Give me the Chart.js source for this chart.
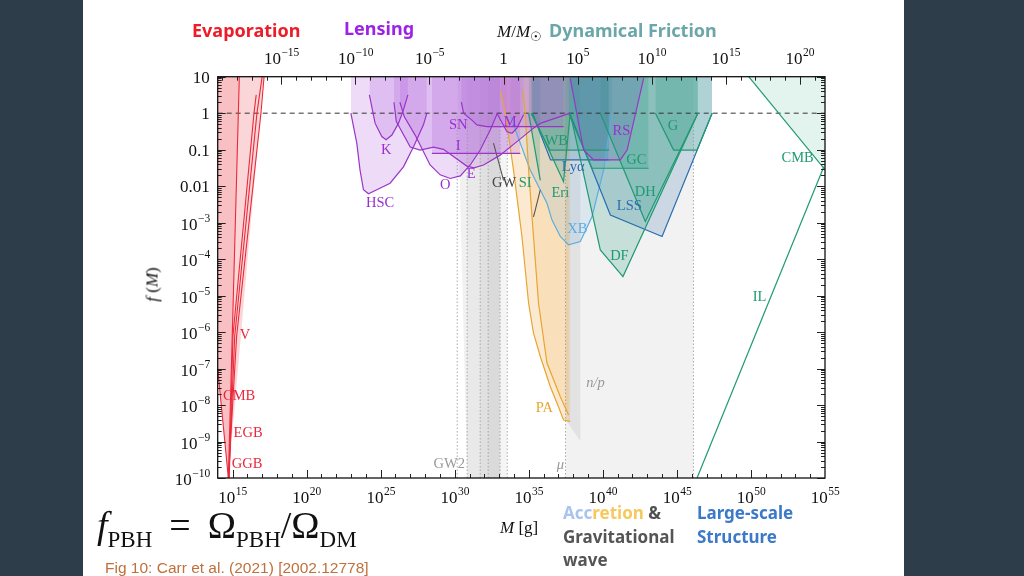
<!DOCTYPE html>
<html><head><meta charset="utf-8">
<script src="https://cdn.jsdelivr.net/npm/chart.js@4.4.1/dist/chart.umd.min.js"></script>
<style>
html,body{margin:0;padding:0;width:1024px;height:576px;overflow:hidden;background:#fff;}
#wrap{position:relative;width:1024px;height:576px;}
.panel{position:absolute;top:0;height:576px;background:#2d3d4a;}
canvas{position:absolute;left:0;top:0;}
.t{position:absolute;white-space:nowrap;line-height:1;}
.sans{font-family:'Noto Sans','Open Sans',sans-serif;font-weight:bold;}
.serif{font-family:'Liberation Serif','DejaVu Serif',serif;}
.sb{font-size:23px;position:relative;top:9px}
.eq{display:inline-block;padding:0 17px}
</style></head><body>
<div id="wrap">
<div class="panel" style="left:0;width:83px"></div>
<div class="panel" style="left:904px;width:120px"></div>
<canvas id="c" width="1024" height="576"></canvas>
<div class="t sans" style="left:192px;top:21px;font-size:18px;color:#ee1b2a">Evaporation</div>
<div class="t sans" style="left:344px;top:19px;font-size:18px;color:#9b22e6">Lensing</div>
<div class="t sans" style="left:549px;top:21px;font-size:18px;color:#6ba7a9">Dynamical Friction</div>
<div class="t serif" style="left:497px;top:23px;font-size:17px;color:#111"><i>M</i>/<i>M</i><sub style="font-size:13px">☉</sub></div>
<div class="t serif" style="left:500px;top:519px;font-size:17px;color:#111"><i>M</i> [g]</div>
<div class="t serif" style="left:124px;top:276px;font-size:17px;color:#111;transform:rotate(-90deg);transform-origin:center;width:56px;text-align:center"><i>f</i> (<i>M</i>)</div>
<div class="t sans" style="left:563px;top:504px;font-size:17px;"><span style="color:#a9c4ef">Acc</span><span style="color:#f6c95e">retion</span> <span style="color:#505050">&amp;</span></div>
<div class="t sans" style="left:563px;top:528px;font-size:17px;color:#555">Gravitational</div>
<div class="t sans" style="left:563px;top:551px;font-size:17px;color:#555">wave</div>
<div class="t sans" style="left:697px;top:504px;font-size:17px;color:#3d79c9">Large-scale</div>
<div class="t sans" style="left:697px;top:528px;font-size:17px;color:#3d79c9">Structure</div>
<div class="t serif" style="left:97px;top:506px;font-size:38px;color:#111"><i>f</i><span class="sb">PBH</span><span class="eq">=</span>Ω<span class="sb">PBH</span>/Ω<span class="sb">DM</span></div>
<div class="t" style="left:105px;top:560px;font-size:15.5px;font-family:'Liberation Sans',Arial,sans-serif;color:#c0703a">Fig 10: Carr et al. (2021) [2002.12778]</div>
</div>
<script>
// ---------- data (log10 M[g], log10 f) ----------
const X_MIN_EXP = 14, X_MAX_EXP = 55, Y_MIN_EXP = -10, Y_MAX_EXP = 1;
const LOG_MSUN = 33.2986;
const xTickExps = [15,20,25,30,35,40,45,50,55];
const topTickExps = [-15,-10,-5,0,5,10,15,20];
const yTickExps = [-10,-9,-8,-7,-6,-5,-4,-3,-2,-1,0,1];

// evaporation
const evapOuter = [[14.0,-7.0],[14.72,-10],[17.1,1]];
const evapInner = [[14.0,-7.0],[14.72,-10],[15.46,1]];
const evapV1 = [[14.72,-10],[15.28,-6.1],[16.92,0],[17.13,1]];
const evapV2 = [[14.75,-10],[15.15,-6.1],[16.65,0],[17.0,1]];
const evapV3 = [[14.78,-10],[15.03,-6.1],[16.45,0],[16.6,0.5]];
const evapV4 = [[14.72,-10],[15.46,1]];
const evapCMB = [[14.0,-7.0],[14.72,-10]];
// lensing
const lensHSC = [[22.99,0.0],[23.39,-0.82],[23.61,-1.56],[23.84,-2.10],[24.18,-2.21],[24.74,-2.10],[25.64,-1.92],[26.54,-1.47],[27.22,-0.92],[27.89,-0.32],[28.12,0.0]];
const lensK = [[24.24,0.5],[24.63,-0.28],[25.08,-0.64],[25.37,-0.73],[25.76,-0.60],[26.2,-0.28],[26.54,0.09],[26.84,0.5]];
const lensO = [[26.3,0.3],[26.6,-0.1],[27.33,-0.6],[28.34,-1.42],[29.02,-1.69],[29.7,-1.79],[30.38,-1.72],[31.05,-1.42],[31.72,-1.01],[32.4,-0.46],[32.88,0.0]];
const lensE = [[25.9,0.3],[26.06,-0.23],[27.0,-0.93],[27.67,-1.01],[28.57,-0.93],[29.24,-0.99],[29.92,-1.19],[30.82,-1.45],[31.3,-1.5],[31.95,-1.42],[33.07,-1.15],[34.2,-0.78],[35.32,-0.41],[35.78,-0.28],[37.8,0.0]];
const lensSN = [[30.45,0.3],[30.6,0.0],[31.16,-0.19],[31.5,-0.32],[32.18,-0.37],[37.35,-0.37]];
const lensI = [[28.46,-1.1],[34.43,-1.1]];
const lensM = [[32.85,0.0],[33.53,-0.51],[33.87,-0.55],[34.2,-0.41],[34.65,-0.04]];
// gravitational waves / accretion
const gwLine1 = [[32.62,-0.82],[33.3,-1.84]];
const gwLine2 = [[35.78,-2.1],[35.32,-2.84]];
const gwBandA = [[30.17,1],[30.84,-10],[33.07,-10]];
const gwBandB = [[30.84,-10],[33.07,-10]];
const gwBandC = [[31.72,-10],[33.07,-10]];
const gwBandD = [[32.26,-10],[33.07,-10]];
const gwBandE = [[33.07,-10],[33.55,-10]];
const muBand = [[37.48,-10],[46.12,-10]];
const npBand = [[37.48,-8.4],[38.5,-9.0]];
const bandEdges = [30.17,30.84,31.72,32.26,33.07,33.55,37.48,46.12];
const accPA1 = [[33.1,0.6],[33.42,0.0],[33.97,-1.56],[34.54,-3.38],[34.99,-5.21],[35.32,-6.03],[35.78,-6.67],[36.45,-7.49],[36.91,-7.95],[37.35,-8.41],[37.8,-8.45]];
const accPA2 = [[34.6,0.6],[34.76,0.0],[34.99,-1.56],[35.32,-3.38],[35.66,-5.21],[36.23,-6.85],[37.13,-7.77],[37.69,-8.27]];
// dynamical / large-scale
const dynSI = [[34.99,0.0],[35.78,-1.84]];
const dynWB = [[35.15,0.0],[36.43,-1.01],[40.42,-1.01]];
const lssLya = [[35.25,0.0],[36.47,-1.28],[40.39,-1.28]];
const dynEri = [[35.22,0.0],[37.35,-1.88],[37.8,0.0]];
const accXB = [[33.76,-0.1],[35.1,-1.56],[35.66,-2.01],[36.23,-2.47],[36.57,-2.93],[37.13,-3.38],[37.69,-3.61],[38.48,-3.52],[39.27,-2.84],[40.05,-1.56],[40.62,0.0]];
const lensRS = [[37.8,0.96],[38.7,-1.01],[39.38,-1.28],[41.18,-1.28],[41.64,-1.01],[42.76,0.96]];
const dynGC = [[37.69,0.0],[39.27,-1.51],[43.09,-1.51]];
const dynDF = [[37.8,0.0],[39.83,-3.75],[41.36,-4.48],[46.42,0.0]];
const dynDH = [[39.83,0.0],[42.87,-2.97],[46.42,0.0]];
const lssLSS = [[37.76,0.0],[40.51,-2.79],[44.0,-3.38],[47.38,0.0]];
const dynG = [[43.55,0.0],[44.78,-1.01],[46.36,-1.01],[47.38,0.0]];
const dynCMB = [[49.85,1.0],[55.0,-1.55]];
const dynIL = [[46.36,-10],[54.92,-1.47]];
const unityLine = [[14,0],[55,0]];

const labels = [
 ['V',15.84,-6.08,'#e8283c'],['CMB',15.45,-7.75,'#e8283c'],['EGB',16.05,-8.76,'#e8283c'],['GGB',15.98,-9.61,'#e8283c'],
 ['HSC',24.97,-2.46,'#9a2fd0'],['K',25.37,-1.01,'#9a2fd0'],['O',29.36,-1.97,'#9a2fd0'],['E',31.11,-1.67,'#9a2fd0'],
 ['SN',30.24,-0.32,'#9a2fd0'],['I',30.24,-0.90,'#9a2fd0'],['M',33.75,-0.24,'#9a2fd0'],['RS',41.26,-0.49,'#9a2fd0'],
 ['GW',33.34,-1.91,'#444'],['SI',34.76,-1.91,'#1f9a72'],['WB',36.86,-0.76,'#1f9a72'],['Lyα',38.0,-1.47,'#2a6db0'],
 ['Eri',37.13,-2.19,'#1f9a72'],['XB',38.28,-3.18,'#5aaee0'],['GC',42.27,-1.28,'#1f9a72'],['DH',42.87,-2.16,'#1f9a72'],
 ['LSS',41.79,-2.55,'#2a6db0'],['DF',41.12,-3.91,'#1f9a72'],['G',44.73,-0.35,'#1f9a72'],['CMB',53.15,-1.23,'#1f9a72'],
 ['IL',50.58,-5.04,'#1f9a72'],['PA',36.05,-8.08,'#e8a530'],['n/p',39.5,-7.39,'#999','italic'],['μ',37.13,-9.64,'#999','italic'],
 ['GW2',29.63,-9.61,'#999']
];

// ---------- build ----------
const SERIF = "'Liberation Serif','DejaVu Serif',serif";
const pts = a => a.map(p => ({x: Math.pow(10,p[0]), y: Math.pow(10,p[1])}));
const fillDS = (a,c,o) => ({data:pts(a), fill:'end', backgroundColor:c, borderWidth:0, borderColor:'rgba(0,0,0,0)', pointRadius:0, order:o});
const lineDS = (a,c,w,d) => ({data:pts(a), fill:false, borderColor:c, borderWidth:w||1.2, borderDash:d||[], pointRadius:0, order:0});

const RED='#ec2a3a', PUR='#9a35c8', GRN='#1f9a72', BLU='#2a6db0', LBL='#5aaee0', ORA='#e8a530';
const PURF='rgba(170,85,215,0.21)', GRNF='rgba(35,150,125,0.21)', BLUF='rgba(45,110,170,0.2)';

const datasets = [];
[evapV1,evapV2,evapV3,evapV4,evapCMB].forEach(a=>datasets.push(lineDS(a,RED,1.1)));
[lensHSC,lensK,lensO,lensE,lensSN,lensI,lensM,lensRS].forEach(a=>datasets.push(lineDS(a,PUR,1.2)));
datasets.push(lineDS(gwLine1,'#555',1.1));
datasets.push(lineDS(gwLine2,'#555',1.1));
[accPA1,accPA2].forEach(a=>datasets.push(lineDS(a,ORA,1.2)));
[dynSI,dynWB,dynEri,dynGC,dynDF,dynDH,dynG,dynCMB,dynIL].forEach(a=>datasets.push(lineDS(a,GRN,1.2)));
[lssLya,lssLSS].forEach(a=>datasets.push(lineDS(a,BLU,1.2)));
datasets.push(lineDS(accXB,LBL,1.2));
datasets.push(Object.assign(lineDS(unityLine,'#333',1,[5,4]),{order:1}));
bandEdges.forEach(e=>datasets.push(Object.assign(lineDS([[e,-10],[e,0]],'rgba(150,150,150,0.8)',1,[1.5,2]),{order:2})));
datasets.push(fillDS(evapOuter,'rgba(240,90,100,0.25)',10));
datasets.push(fillDS(evapInner,'rgba(240,90,100,0.18)',10));
[lensHSC,lensK,lensO,lensE,lensSN,lensI,lensM].forEach(a=>datasets.push(fillDS(a,PURF,10)));
datasets.push(fillDS(lensRS,'rgba(110,80,190,0.18)',10));
[dynSI,dynWB,dynEri,dynGC,dynDF,dynDH,dynG].forEach(a=>datasets.push(fillDS(a,GRNF,12)));
datasets.push(fillDS(dynCMB,'rgba(60,175,140,0.14)',12));
[lssLya,lssLSS].forEach(a=>datasets.push(fillDS(a,BLUF,12)));
datasets.push(fillDS(accXB,'rgba(100,170,220,0.16)',12));
datasets.push(fillDS(accPA1,'rgba(240,180,90,0.28)',14));
datasets.push(fillDS(accPA2,'rgba(240,180,90,0.18)',14));
datasets.push(fillDS(npBand,'rgba(190,190,190,0.3)',16));
datasets.push(fillDS(gwBandA,'rgba(215,215,215,0.35)',18));
datasets.push(fillDS(gwBandB,'rgba(205,205,205,0.25)',18));
datasets.push(fillDS(gwBandC,'rgba(195,195,195,0.25)',18));
datasets.push(fillDS(gwBandD,'rgba(185,185,185,0.25)',18));
datasets.push(fillDS(gwBandE,'rgba(225,225,225,0.35)',18));
datasets.push(fillDS(muBand,'rgba(238,238,238,0.75)',20));

const ex = v => Math.round(Math.log10(v));
const expStr = e => String(e).replace('-','\u2212');

function drawPow(ctx, e, x, baseline, align, plain){
 ctx.textAlign='left'; ctx.textBaseline='alphabetic';
 ctx.font='17px '+SERIF;
 if(plain!==undefined){
  const w=ctx.measureText(plain).width;
  ctx.fillText(plain, align==='right'? x-w : x-w/2, baseline); return;
 }
 const w1=ctx.measureText('10').width;
 ctx.font='11.5px '+SERIF;
 const s=expStr(e), w2=ctx.measureText(s).width;
 const x0 = align==='right' ? x-(w1+w2) : x-(w1+w2)/2;
 ctx.font='17px '+SERIF; ctx.fillText('10', x0, baseline);
 ctx.font='11.5px '+SERIF; ctx.fillText(s, x0+w1+0.5, baseline-8);
}

const tickPlugin = {
 id:'frameTicks',
 afterDraw(chart){
  const {ctx, chartArea:a, scales} = chart;
  ctx.save();
  ctx.strokeStyle='#222'; ctx.lineWidth=1;
  const seg=(x1,y1,x2,y2)=>{ctx.beginPath();ctx.moveTo(x1,y1);ctx.lineTo(x2,y2);ctx.stroke();};
  for(let k=X_MIN_EXP+1;k<X_MAX_EXP;k++){
   const x=Math.round(scales.x.getPixelForValue(Math.pow(10,k)))+0.5;
   seg(x,a.bottom,x,a.bottom-(k%5===0?8:4));
  }
  for(let k=-20;k<=22;k++){
   const x=Math.round(scales.x2.getPixelForValue(Math.pow(10,k)))+0.5;
   if(x<=a.left+1||x>=a.right-1) continue;
   seg(x,a.top,x,a.top+(k%5===0?8:4));
  }
  for(let k=Y_MIN_EXP;k<=Y_MAX_EXP;k++){
   for(let m=1;m<=9;m++){
    const v=m*Math.pow(10,k); if(v>10.0001) break;
    const y=Math.round(scales.y.getPixelForValue(v))+0.5;
    const L=m===1?8:4;
    seg(a.left,y,a.left+L,y); seg(a.right,y,a.right-L,y);
   }
  }
  ctx.lineWidth=1.3; ctx.strokeStyle='#111';
  ctx.strokeRect(a.left,a.top,a.right-a.left,a.bottom-a.top);
  ctx.fillStyle='#111';
  xTickExps.forEach(e=>drawPow(ctx,e,scales.x.getPixelForValue(Math.pow(10,e)),a.bottom+25,'center'));
  topTickExps.forEach(e=>drawPow(ctx,e,scales.x2.getPixelForValue(Math.pow(10,e)),a.top-13,'center', e===0?'1':undefined));
  const plainY={1:'10',0:'1','-1':'0.1','-2':'0.01'};
  yTickExps.forEach(e=>drawPow(ctx,e,a.left-8,scales.y.getPixelForValue(Math.pow(10,e))+(plainY[e]?6:7),'right',plainY[e]));
  ctx.restore();
 },
 afterDatasetsDraw(chart){
  const {ctx, scales} = chart;
  ctx.save(); ctx.textAlign='center'; ctx.textBaseline='middle';
  labels.forEach(l=>{
   ctx.font=(l[4]||'')+' 14.5px '+SERIF;
   ctx.fillStyle=l[3];
   ctx.fillText(l[0], scales.x.getPixelForValue(Math.pow(10,l[1])), scales.y.getPixelForValue(Math.pow(10,l[2])));
  });
  ctx.restore();
 }
};

const noTicks = {display:false};
new Chart(document.getElementById('c'), {
 type:'line',
 data:{datasets},
 plugins:[tickPlugin],
 options:{
  responsive:false, animation:false, devicePixelRatio:1,
  layout:{padding:{left:0,right:199,top:0,bottom:0}},
  plugins:{legend:{display:false}, tooltip:{enabled:false}},
  elements:{line:{tension:0}},
  scales:{
   x:{type:'logarithmic', position:'bottom', min:Math.pow(10,X_MIN_EXP), max:Math.pow(10,X_MAX_EXP),
      grid:{display:false, drawTicks:false}, border:{display:false}, ticks:noTicks,
      afterBuildTicks:s=>{s.ticks = xTickExps.map(e=>({value:Math.pow(10,e)}));},
      afterFit:s=>{s.height=98;}},
   x2:{type:'logarithmic', position:'top', min:Math.pow(10,X_MIN_EXP-LOG_MSUN), max:Math.pow(10,X_MAX_EXP-LOG_MSUN),
      grid:{display:false, drawTicks:false}, border:{display:false}, ticks:noTicks,
      afterBuildTicks:s=>{s.ticks = topTickExps.map(e=>({value:Math.pow(10,e)}));},
      afterFit:s=>{s.height=76.7;}},
   y:{type:'logarithmic', position:'left', min:Math.pow(10,Y_MIN_EXP), max:Math.pow(10,Y_MAX_EXP),
      grid:{display:false, drawTicks:false}, border:{display:false}, ticks:noTicks,
      afterBuildTicks:s=>{s.ticks = yTickExps.map(e=>({value:Math.pow(10,e)}));},
      afterFit:s=>{s.width=217.7;}}
  }
 }
});
</script>
</body></html>
